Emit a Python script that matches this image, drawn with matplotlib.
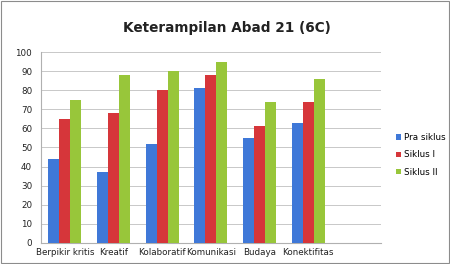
import numpy as np
import matplotlib.pyplot as plt
from matplotlib.patches import Rectangle

# data
categories = ["Berpikir kritis", "Kreatif", "Kolaboratif", "Komunikasi",
              "Budaya", "Konektifitas"]
series_names = ["Pra siklus", "Siklus I", "Siklus II"]
pra_siklus = [44, 37, 52, 81, 55, 63]
siklus_1 = [65, 68, 80, 88, 61, 74]
siklus_2 = [75, 88, 90, 95, 74, 86]
colors = ["#3f78d8", "#d6363a", "#98c63a"]

fig = plt.figure(figsize=(4.5, 2.64), dpi=100)
ax = fig.add_axes([0.09, 0.08, 0.757, 0.723])

x = np.arange(len(categories))
w = 0.225
for i, (vals, name) in enumerate(zip([pra_siklus, siklus_1, siklus_2], series_names)):
    ax.bar(x + (i - 1) * w, vals, w, color=colors[i], label=name, zorder=3,
           edgecolor="none")

# extra empty slot on the right like the original
ax.set_xlim(-0.5, len(categories) + 0.5)
ax.set_ylim(0, 100)
ax.set_yticks(range(0, 101, 10))
ax.set_xticks(x)
ax.set_xticklabels(categories, fontsize=6.3, color="#222222")
ax.tick_params(axis="y", labelsize=6.3, colors="#222222", length=0, pad=6)
ax.tick_params(axis="x", length=0, pad=4)
ax.grid(axis="y", color="#c8c8c8", linewidth=0.7, zorder=0)
for s in ["top", "right"]:
    ax.spines[s].set_visible(False)
ax.spines["left"].set_color("#b0b0b0")
ax.spines["bottom"].set_color("#b0b0b0")

fig.text(0.505, 0.893, "Keterampilan Abad 21 (6C)", ha="center", va="center",
         fontsize=9.8, fontweight="bold", color="#222222")

fig.legend(loc="center left", bbox_to_anchor=(0.88, 0.413), frameon=False,
           fontsize=6.3, handlelength=0.6, handleheight=0.6, handletextpad=0.3,
           labelspacing=0.95, borderaxespad=0, borderpad=0)

fig.patches.append(Rectangle((0.002, 0.003), 0.996, 0.994, transform=fig.transFigure,
                             fill=False, edgecolor="#8c8c8c", linewidth=0.8))

fig.savefig("out.png", dpi=100)
